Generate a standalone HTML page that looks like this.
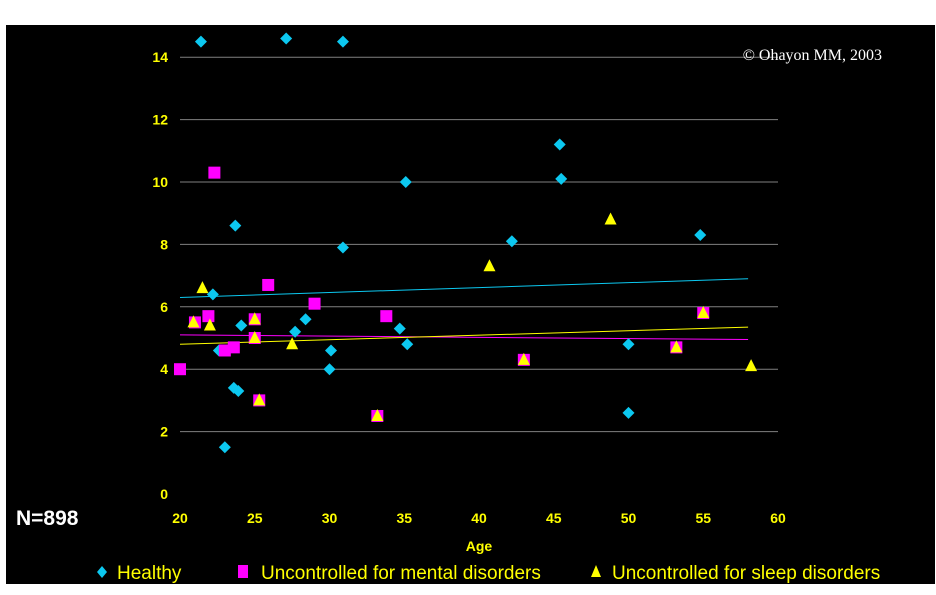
<!DOCTYPE html>
<html><head><meta charset="utf-8"><style>
body{margin:0;background:#fff;}
svg{display:block;font-family:"Liberation Sans",Arial,sans-serif;}
</style></head><body>
<svg width="936" height="595">
<rect x="6" y="25" width="929" height="559" fill="#000"/>
<g id="grid"></g><g id="trend"></g><g id="marks"></g><g id="axes"></g>
<text x="882" y="60" fill="#fff" font-family="Liberation Serif,serif" font-size="16" text-anchor="end">© Ohayon MM, 2003</text>
<text x="16" y="525" fill="#fff" font-weight="bold" font-size="21">N=898</text>
<text x="479" y="551" fill="#ff0" font-weight="bold" font-size="14" text-anchor="middle">Age</text>
<g>
<g><polygon points="102,566 107,572 102,578 97,572" fill="#0cc8f0"/><text x="117" y="579" fill="#ff0" font-size="19">Healthy</text></g>
<g><rect x="238" y="565" width="10" height="13" fill="#f0f"/><text x="261" y="579" fill="#ff0" font-size="19">Uncontrolled  for mental  disorders</text></g>
<g><polygon points="596,565 601,577 591,577" fill="#ff0"/><text x="612" y="579" fill="#ff0" font-size="19">Uncontrolled  for sleep disorders</text></g>
</g>
</svg>
<script>
const xTicks=[20,25,30,35,40,45,50,55,60];
const yTicks=[0,2,4,6,8,10,12,14];
const healthyAge=[21.4,27.1,30.9,45.4,45.5,35.1,23.7,30.9,42.2,54.8,22.2,24.1,28.4,27.7,34.7,35.2,22.6,30.1,30,23.6,23.9,23,50,50];
const healthyVal=[14.5,14.6,14.5,11.2,10.1,10,8.6,7.9,8.1,8.3,6.4,5.4,5.6,5.2,5.3,4.8,4.6,4.6,4.0,3.4,3.3,1.5,4.8,2.6];
const mentalAge=[20,21,21.9,22.3,23,23.6,25,25,25.3,25.9,29,33.8,33.2,43,53.2,55];
const mentalVal=[4.0,5.5,5.7,10.3,4.6,4.7,5.6,5.0,3.0,6.7,6.1,5.7,2.5,4.3,4.7,5.8];
const sleepAge=[21.5,20.9,22,25,25,25.3,27.5,33.2,40.7,43,48.8,53.2,55,58.2];
const sleepVal=[6.6,5.5,5.4,5.6,5.0,3.0,4.8,2.5,7.3,4.3,8.8,4.7,5.8,4.1];
const trendHealthy=[6.3,6.9];
const trendMental=[5.1,4.95];
const trendSleep=[4.8,5.35];
const trendAge=[20,58];
const NS="http://www.w3.org/2000/svg";
const X=v=>180+(v-20)*14.95;
const Y=v=>494-v*31.2;
function mk(tag,attrs,parent){const e=document.createElementNS(NS,tag);for(const k in attrs)e.setAttribute(k,attrs[k]);document.getElementById(parent).appendChild(e);return e;}
yTicks.forEach(t=>{
  if(t>0){const l=mk('line',{x1:180,x2:778,y1:Y(t),y2:Y(t),stroke:'#808080','stroke-width':1},'grid');
  
  }
  const tx=mk('text',{x:168,y:Y(t)+5,fill:'#ff0','font-size':14,'font-weight':'bold','text-anchor':'end'},'axes');
  tx.textContent=t;
  
  
});
xTicks.forEach(t=>{
  const tx=mk('text',{x:X(t),y:523,fill:'#ff0','font-size':14,'font-weight':'bold','text-anchor':'middle'},'axes');
  tx.textContent=t;
  
  
});
[[trendHealthy,'#0cc8f0','trend-healthy'],[trendMental,'#f0f','trend-mental'],[trendSleep,'#ff0','trend-sleep']].forEach(([v,c,n])=>{
  const l=mk('line',{x1:X(trendAge[0]),x2:X(trendAge[1]),y1:Y(v[0]),y2:Y(v[1]),stroke:c,'stroke-width':1},'trend');
  
  
});
healthyAge.forEach((a,i)=>{const x=X(a),y=Y(healthyVal[i]);
  const p=mk('polygon',{points:`${x},${y-6} ${x+6},${y} ${x},${y+6} ${x-6},${y}`,fill:'#0cc8f0'},'marks');
  
  });
mentalAge.forEach((a,i)=>{const x=X(a),y=Y(mentalVal[i]);
  const p=mk('rect',{x:x-6,y:y-6,width:12,height:12,fill:'#f0f'},'marks');
  
  });
sleepAge.forEach((a,i)=>{const x=X(a),y=Y(sleepVal[i]);
  const p=mk('polygon',{points:`${x},${y-7} ${x+6},${y+5} ${x-6},${y+5}`,fill:'#ff0'},'marks');
  
  });
</script>
</body></html>
